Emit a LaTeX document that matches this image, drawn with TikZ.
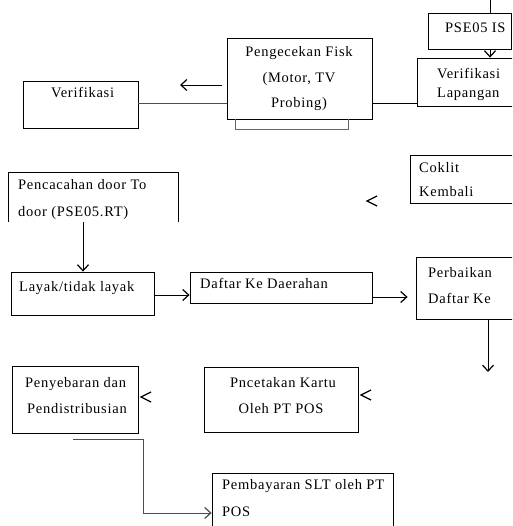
\documentclass[tikz,border=0pt]{standalone}
\usepackage{fontspec}
\setmainfont[LetterSpace=5]{Liberation Serif}
\usetikzlibrary{arrows.meta}
\tikzset{
  box/.style={draw, line width=.8pt, inner sep=0pt},
  lbl/.style={anchor=base west, inner sep=0pt, font=\fontsize{14.5}{17}\selectfont},
  clbl/.style={lbl, anchor=base},
  conn/.style={line width=.8pt},
  arr/.style={conn, -{Straight Barb[length=6pt,width=11pt,line width=1.2pt]}},
  barb/.style={line width=1.2pt}
}

\begin{document}
\begin{tikzpicture}[x=1pt,y=-1pt]
  \clip (0,0) rectangle (512,526);

  \node[box, minimum width=83,  minimum height=36] (pse)    at (469.5,31)  {};
  \node[box, minimum width=110, minimum height=48] (verlap) at (472,82)    {};
  \node[box, minimum width=145, minimum height=81] (cek)    at (299.5,78.5) {};
  \node[box, minimum width=115, minimum height=47] (verif)  at (80.5,104.5) {};
  \node[inner sep=0pt, minimum width=170, minimum height=50] (cacah) at (93,197) {};
  \node[box, minimum width=120, minimum height=48] (coklit) at (470,179)   {};
  \node[box, minimum width=143, minimum height=43] (layak)  at (82.5,293.5) {};
  \node[box, minimum width=182, minimum height=31] (daftar) at (281,287.5) {};
  \node[box, minimum width=114, minimum height=62] (baik)   at (473,288)   {};
  \node[box, minimum width=126, minimum height=67] (sebar)  at (75,399.5)  {};
  \node[box, minimum width=154, minimum height=65] (cetak)  at (281,399.5) {};
  \node[box, minimum width=181, minimum height=67] (bayar)  at (302.5,506.5) {};

  \node[lbl]  (tpse)   at (445,33)    {PSE05 IS};
  \node[lbl]  (tver1)  at (437,79)    {Verifikasi};
  \node[lbl]  (tver2)  at (437,98)    {Lapangan};
  \node[clbl] (tcek1)  at (299,57)    {Pengecekan Fisk};
  \node[clbl] (tcek2)  at (299,83)    {(Motor, TV};
  \node[clbl] (tcek3)  at (299,108)   {Probing)};
  \node[lbl]  (tverif) at (51,98)     {Verifikasi};
  \node[lbl]  (tcac1)  at (18,190)    {Pencacahan door To};
  \node[lbl]  (tcac2)  at (18,217)    {door (PSE05.RT)};
  \node[lbl]  (tcok1)  at (419,173)   {Coklit};
  \node[lbl]  (tcok2)  at (419,197)   {Kembali};
  \node[lbl]  (tlay)   at (19,291)    {Layak/tidak layak};
  \node[lbl]  (tdaf)   at (200,288)   {Daftar Ke Daerahan};
  \node[lbl]  (tbai1)  at (428,277)   {Perbaikan};
  \node[lbl]  (tbai2)  at (428,303)   {Daftar Ke};
  \node[lbl]  (tseb1)  at (25,387)    {Penyebaran dan};
  \node[lbl]  (tseb2)  at (27,413)    {Pendistribusian};
  \node[clbl] (tcet1)  at (283,387)   {Pncetakan Kartu};
  \node[clbl] (tcet2)  at (281,413)   {Oleh PT POS};
  \node[lbl]  (tbay1)  at (222,489)   {Pembayaran SLT oleh PT};
  \node[lbl]  (tbay2)  at (222,516)   {POS};

  \draw (cacah.south west) -- (cacah.north west) -- (cacah.north east) -- (cacah.south east);
  \draw[black!60] ([xshift=9]cek.south west) -- ++(0,10) -| ([xshift=-24]cek.south east);

  \coordinate (top) at (490,0);
  \draw[conn] (top) -- (pse.north -| top);
  \draw[arr] (pse.south -| top) -- (verlap.north -| top);
  \draw[conn] (cek.east |- 0,103) -- (verlap.west |- 0,103);
  \draw[conn, black!70] (verif.east |- 0,103) -- (cek.west |- 0,103);
  \draw[arr] ([xshift=-5]cek.west |- 0,85) -- (180,85);
  \draw[arr] (cacah.south -| 83,0) -- (layak.north -| 83,0);
  \draw[arr] (layak.east |- 0,295) -- (daftar.west |- 0,295);
  \draw[arr] (daftar.east |- 0,297) -- ([xshift=-8]baik.west |- 0,297);
  \draw[arr] (baik.south -| 488,0) -- (488,372);
  \coordinate (bend) at (73,439);
  \draw[arr, black!70, line width=1pt] (bend) -| (143,513) -- (bayar.west |- 0,513);

  \foreach \x/\y in {367/201, 141/397, 361/395}
    \draw[barb] (\x+10,\y-5) -- (\x,\y) -- (\x+10,\y+5);
\end{tikzpicture}
\end{document}
